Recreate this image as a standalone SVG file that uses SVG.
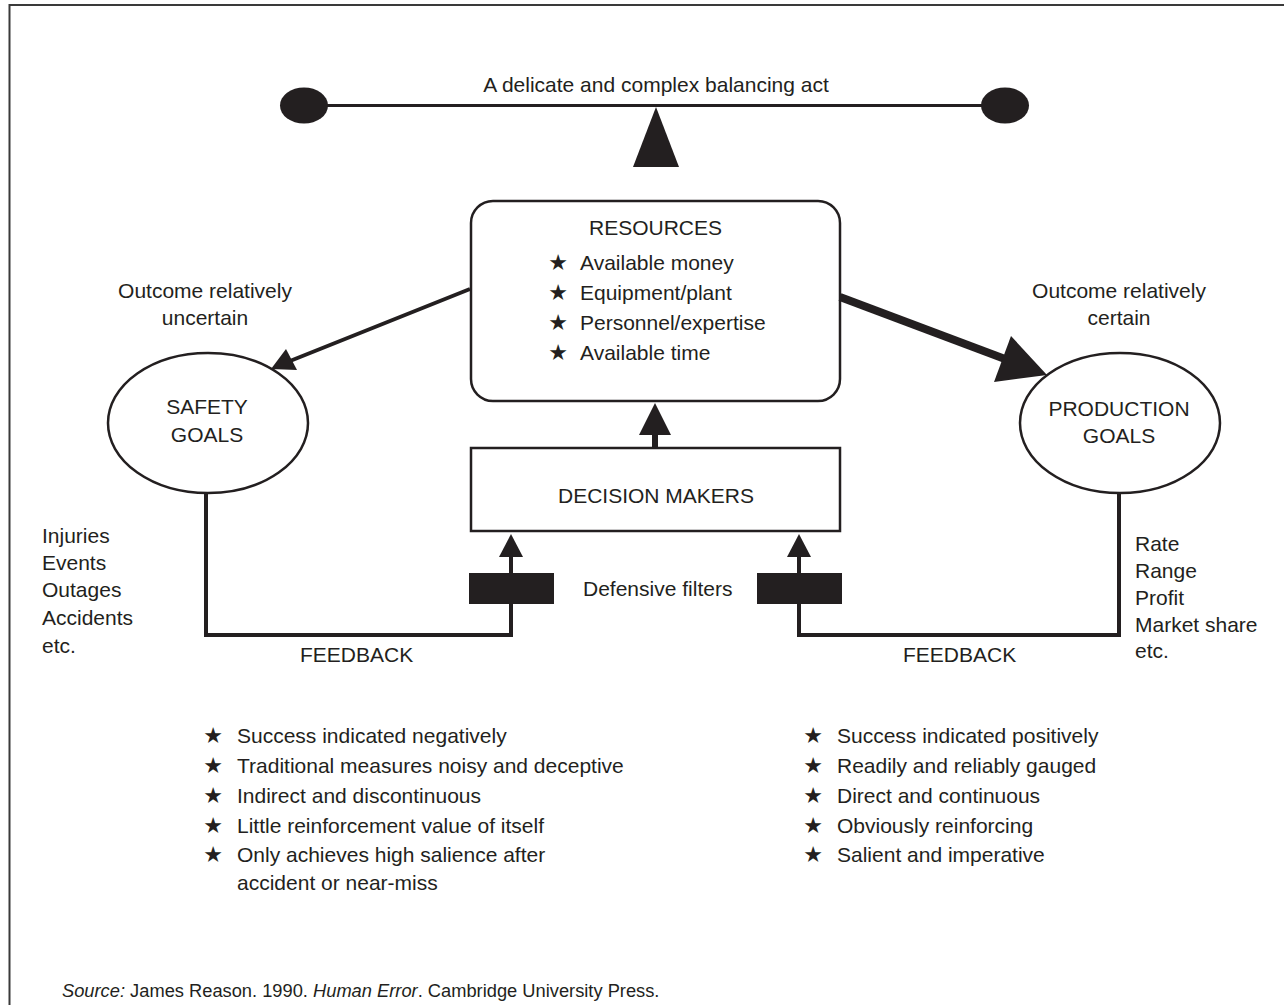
<svg xmlns="http://www.w3.org/2000/svg" width="1284" height="1005" viewBox="0 0 1284 1005">
  <style>
    text { font-family: "Liberation Sans", Arial, sans-serif; font-size: 21px; fill: #231f20; }
    .mid { text-anchor: middle; }
    .star { font-family: "DejaVu Sans", sans-serif; font-size: 22px; text-anchor: middle; }
    .src { font-size: 18.3px; }
    .it { font-style: italic; }
    .shape { fill: #ffffff; stroke: #231f20; stroke-width: 2.5; }
    .wire { fill: none; stroke: #231f20; stroke-width: 4; }
    .solid { fill: #231f20; stroke: none; }
  </style>

  <!-- outer frame (runs off the right and bottom edges) -->
  <rect x="9.5" y="5" width="1300" height="1020" fill="#ffffff" stroke="#3a3a3a" stroke-width="2"/>

  <!-- balance beam -->
  <g id="balance">
    <line x1="320" y1="105.5" x2="990" y2="105.5" stroke="#231f20" stroke-width="3"/>
    <ellipse class="solid" cx="304" cy="105.5" rx="24" ry="18"/>
    <ellipse class="solid" cx="1005" cy="105.5" rx="24" ry="18"/>
    <polygon class="solid" points="656,107 679,167 633,167"/>
    <text class="mid" x="656" y="92">A delicate and complex balancing act</text>
  </g>

  <g id="resources">
    <rect class="shape" x="471" y="201" width="369" height="200" rx="22" ry="22"/>
    <text class="mid" x="655.5" y="235">RESOURCES</text>
    <text class="star" x="558" y="270">★</text>
    <text x="580" y="270">Available money</text>
    <text class="star" x="558" y="300">★</text>
    <text x="580" y="300">Equipment/plant</text>
    <text class="star" x="558" y="330">★</text>
    <text x="580" y="330">Personnel/expertise</text>
    <text class="star" x="558" y="360">★</text>
    <text x="580" y="360">Available time</text>
  </g>

  <g id="decision-makers">
    <rect class="shape" x="471" y="448" width="369" height="83"/>
    <text class="mid" x="656" y="503">DECISION MAKERS</text>
  </g>

  <g id="safety-goals">
    <ellipse class="shape" cx="208" cy="423" rx="100" ry="70"/>
    <text class="mid" x="207" y="414">SAFETY</text>
    <text class="mid" x="207" y="442">GOALS</text>
  </g>

  <g id="production-goals">
    <ellipse class="shape" cx="1120" cy="423" rx="100" ry="70"/>
    <text class="mid" x="1119" y="416">PRODUCTION</text>
    <text class="mid" x="1119" y="443">GOALS</text>
  </g>

  <g id="connectors">
    <!-- resources to safety goals -->
    <line class="wire" x1="470" y1="289" x2="290" y2="361"/>
    <polygon class="solid" points="271,369 286,349 297,370"/>
    <!-- resources to production goals (heavy) -->
    <line x1="840" y1="297" x2="1005" y2="359" stroke="#231f20" stroke-width="8"/>
    <polygon class="solid" points="1047,375 1011,336 994,382"/>
    <!-- decision makers to resources -->
    <line x1="655" y1="448" x2="655" y2="432" stroke="#231f20" stroke-width="6"/>
    <polygon class="solid" points="655,403 671,435 639,435"/>
    <!-- feedback loops -->
    <polyline class="wire" points="206,493 206,635 511,635 511,555"/>
    <polygon class="solid" points="511,534 523,557 499,557"/>
    <polyline class="wire" points="1119,493 1119,635 799,635 799,555"/>
    <polygon class="solid" points="799,534 811,557 787,557"/>
  </g>

  <g id="filters">
    <rect class="solid" x="469" y="573" width="85" height="31"/>
    <rect class="solid" x="757" y="573" width="85" height="31"/>
    <text x="583" y="596">Defensive filters</text>
  </g>

  <g id="labels">
    <text class="mid" x="205" y="298">Outcome relatively</text>
    <text class="mid" x="205" y="325">uncertain</text>
    <text class="mid" x="1119" y="298">Outcome relatively</text>
    <text class="mid" x="1119" y="325">certain</text>

    <text x="42" y="543">Injuries</text>
    <text x="42" y="570">Events</text>
    <text x="42" y="597">Outages</text>
    <text x="42" y="625">Accidents</text>
    <text x="42" y="653">etc.</text>

    <text x="1135" y="551">Rate</text>
    <text x="1135" y="578">Range</text>
    <text x="1135" y="605">Profit</text>
    <text x="1135" y="632">Market share</text>
    <text x="1135" y="658">etc.</text>

    <text x="300" y="662">FEEDBACK</text>
    <text x="903" y="662">FEEDBACK</text>
  </g>

  <g id="safety-list">
    <text class="star" x="213" y="743">★</text>
    <text x="237" y="743">Success indicated negatively</text>
    <text class="star" x="213" y="773">★</text>
    <text x="237" y="773">Traditional measures noisy and deceptive</text>
    <text class="star" x="213" y="803">★</text>
    <text x="237" y="803">Indirect and discontinuous</text>
    <text class="star" x="213" y="833">★</text>
    <text x="237" y="833">Little reinforcement value of itself</text>
    <text class="star" x="213" y="862">★</text>
    <text x="237" y="862">Only achieves high salience after</text>
    <text x="237" y="890">accident or near-miss</text>
  </g>

  <g id="production-list">
    <text class="star" x="813" y="743">★</text>
    <text x="837" y="743">Success indicated positively</text>
    <text class="star" x="813" y="773">★</text>
    <text x="837" y="773">Readily and reliably gauged</text>
    <text class="star" x="813" y="803">★</text>
    <text x="837" y="803">Direct and continuous</text>
    <text class="star" x="813" y="833">★</text>
    <text x="837" y="833">Obviously reinforcing</text>
    <text class="star" x="813" y="862">★</text>
    <text x="837" y="862">Salient and imperative</text>
  </g>

  <text class="src" x="62" y="997"><tspan class="it">Source:</tspan> James Reason. 1990. <tspan class="it">Human Error</tspan>. Cambridge University Press.</text>
</svg>
